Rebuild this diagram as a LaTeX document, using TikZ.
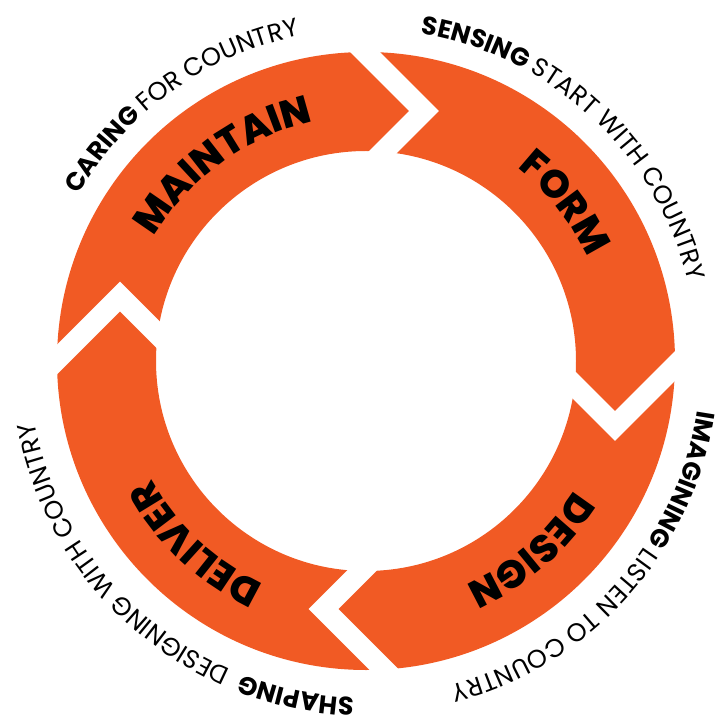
\documentclass[tikz,border=0pt]{standalone}
\usepackage{fontspec}
\setmainfont{Poppins}
\newfontfamily\ringheavy{Poppins}[UprightFont={* ExtraBold}]
\usetikzlibrary{decorations.text}
\definecolor{ringorange}{HTML}{F15A24}
\newcommand\ringlabelfont{\fontsize{39bp}{44bp}\selectfont\ringheavy}
\newcommand\outerbold{\fontsize{25.5bp}{30bp}\selectfont\bfseries}
\newcommand\outerreg{\fontsize{25.5bp}{30bp}\selectfont\mdseries}
\tikzset{
  ringlabel/.style={decorate, decoration={text along path, text align=center,
      text={|\ringlabelfont|#1}}},
  outerlabel/.style={decorate, decoration={text along path, text align=left,
      text={#1}}},
  gapline/.style={draw=white, line width=21bp, miter limit=4, line join=miter}
}
\begin{document}
\begin{tikzpicture}[x=1bp, y=1bp]
  \useasboundingbox (-366,-366) rectangle (350,361);
  % the ring
  \fill[ringorange, even odd rule] (0,0) circle (309) (0,0) circle (210);
  % chevron cuts between the four stages
  \begin{scope}
    \clip (0,0) circle (312);
    \draw[gapline] (-22,330) -- (58,250) -- (-22,170);
    \draw[gapline] (169,15) -- (249,-65) -- (329,15);
    \draw[gapline] (37.5,-168) -- (-42.5,-248) -- (37.5,-328);
    \draw[gapline] (-166,-15.5) -- (-246,64.5) -- (-326,-15.5);
  \end{scope}
  % stage names inside the ring
  \path[ringlabel={MAINTAIN}] (186:245) arc[start angle=186, end angle=66, radius=245];
  \path[ringlabel={FORM}] (98.5:245) arc[start angle=98.5, end angle=-21.5, radius=245];
  \path[ringlabel={DESIGN}] (11:245) arc[start angle=11, end angle=-109, radius=245];
  \path[ringlabel={DELIVER}] (287:245) arc[start angle=287, end angle=167, radius=245];
  % captions round the outside
  \path[outerlabel={|\outerbold|CARING |\outerreg|FOR COUNTRY}]
    (150:332) arc[start angle=150, end angle=50, radius=332];
  \path[outerlabel={|\outerbold|SENSING |\outerreg|START WITH COUNTRY}]
    (80.5:332) arc[start angle=80.5, end angle=-19.5, radius=332];
  \path[outerlabel={|\outerbold|IMAGINING |\outerreg|LISTEN TO COUNTRY}]
    (-8.5:335) arc[start angle=-8.5, end angle=-108.5, radius=335];
  \path[outerlabel={|\outerbold|SHAPING |\outerreg| DESIGNING WITH COUNTRY}]
    (268:337) arc[start angle=268, end angle=168, radius=337];
\end{tikzpicture}
\end{document}
